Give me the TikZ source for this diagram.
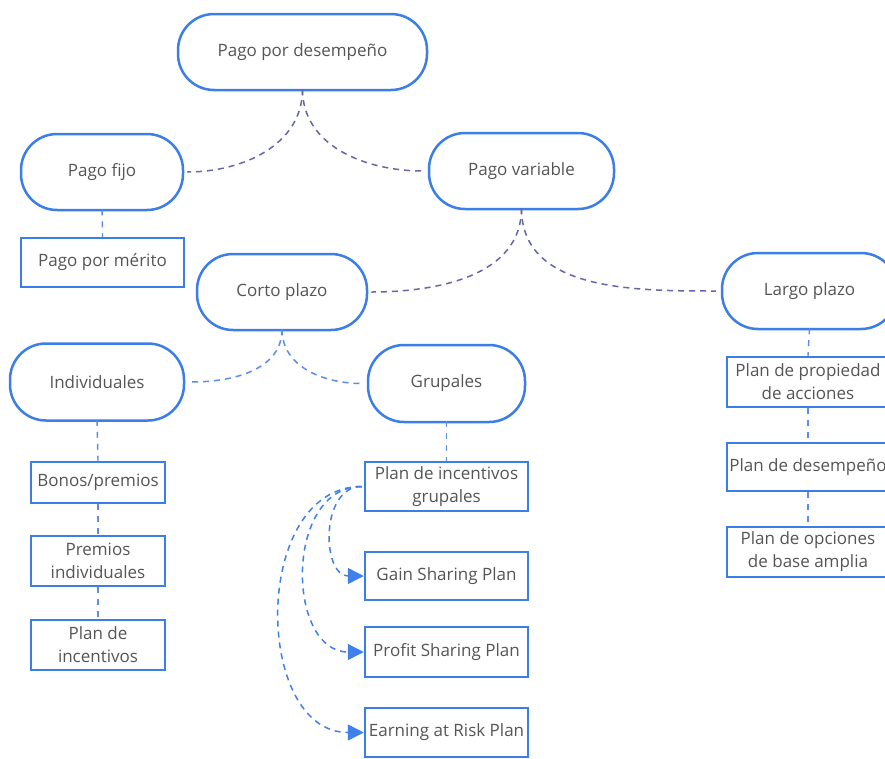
\documentclass[tikz,border=0pt]{standalone}
\usepackage{fontspec}
\setmainfont{Open Sans}
\usetikzlibrary{arrows.meta}
\definecolor{nodeblue}{HTML}{3B7DE9}
\definecolor{linkpurple}{HTML}{6666AA}
\definecolor{linkblue}{HTML}{5B8FE6}
\definecolor{arrowblue}{HTML}{3F80EA}
\definecolor{txt}{HTML}{555555}
\tikzset{
  every node/.style={font=\fontsize{17}{23}\selectfont, text=txt, align=center, inner sep=0pt},
  stadium/.style={draw=nodeblue, line width=2.5pt, rounded corners=36pt, minimum height=76pt, fill=white},
  rectbox/.style={draw=nodeblue, line width=2.5pt, fill=white},
  toplink/.style={draw=linkpurple, line width=1.5pt, dash pattern=on 6pt off 5pt},
  sublink/.style={draw=linkblue, line width=1.5pt, dash pattern=on 6pt off 5pt},
  vlink/.style={draw=linkblue, line width=1.4pt, dash pattern=on 6pt off 6pt},
  arrlink/.style={draw=arrowblue, line width=1.5pt, dash pattern=on 6pt off 5pt,
     -{Triangle[length=16pt,width=16pt,fill=arrowblue]}},
}
\begin{document}
\begin{tikzpicture}[x=1pt,y=-1pt]
\useasboundingbox (0,0) rectangle (885,758);
\clip (0,0) rectangle (885,758);
\fill[white] (0,0) rectangle (885,758);

% nodes
\node[stadium, minimum width=249pt] (pd) at (302.5,52) {Pago por desempeño};
\node[stadium, minimum width=162pt] (pf) at (102,172) {Pago fijo};
\node[stadium, minimum width=185pt] (pv) at (521.5,171) {Pago variable};
\node[rectbox, minimum width=163pt, minimum height=49pt] (pm) at (102.5,262.5) {Pago por mérito};
\node[stadium, minimum width=170pt] (cp) at (282,292) {Corto plazo};
\node[stadium, minimum width=175pt] (lp) at (809.5,291) {Largo plazo};
\node[stadium, minimum width=174pt, minimum height=77pt] (ind) at (97,382) {Individuales};
\node[stadium, minimum width=157pt, minimum height=77pt] (gr) at (446.5,383.5) {Grupales};

\node[rectbox, minimum width=134pt, minimum height=41pt] (bp) at (98,482.5) {Bonos/premios};
\node[rectbox, minimum width=134pt, minimum height=50pt] (pi) at (98,561) {Premios\\individuales};
\node[rectbox, minimum width=134pt, minimum height=50pt] (pinc) at (98,645) {Plan de\\incentivos};

\node[rectbox, minimum width=163pt, minimum height=49pt] (pig) at (446.5,486.5) {Plan de incentivos\\grupales};
\node[rectbox, minimum width=163pt, minimum height=48pt] (gs) at (446.5,576) {Gain Sharing Plan};
\node[rectbox, minimum width=163pt, minimum height=50pt] (ps) at (446.5,652) {Profit Sharing Plan};
\node[rectbox, minimum width=163pt, minimum height=49pt] (er) at (446.5,732.5) {Earning at Risk Plan};

\node[rectbox, minimum width=162pt, minimum height=50pt] (pp) at (808,382) {Plan de propiedad\\de acciones};
\node[rectbox, minimum width=162pt, minimum height=48pt] (pdes) at (808,467) {Plan de desempeño};
\node[rectbox, minimum width=162pt, minimum height=50pt] (po) at (808,552) {Plan de opciones\\de base amplia};

% connectors
\path[toplink] ([yshift=2pt]pd.south) to[out=-90,in=0] ([xshift=3pt]pf.east);
\path[toplink] ([yshift=2pt]pd.south) to[out=-90,in=180] ([xshift=-5pt]pv.west);
\path[toplink] ([yshift=2pt]pv.south) to[out=-90,in=0] ([xshift=3pt]cp.east);
\path[toplink] ([yshift=2pt]pv.south) to[out=-90,in=180] ([xshift=-5pt]lp.west);
\path[sublink] ([yshift=2pt]cp.south) to[out=-90,in=0] ([xshift=6pt]ind.east);
\path[sublink] ([yshift=2pt]cp.south) to[out=-90,in=180] ([xshift=-5pt]gr.west);

\path[vlink] ([yshift=2pt]pf.south) -- (pm.north);
\path[vlink] ([yshift=2pt]ind.south) -- (bp.north);
\path[vlink] (bp.south) -- (pi.north);
\path[vlink] (pi.south) -- (pinc.north);
\path[vlink] ([yshift=2pt]gr.south) -- (pig.north);
\path[vlink] ([yshift=2pt]lp.south) -- (pp.north);
\path[vlink] (pp.south) -- (pdes.north);
\path[vlink] (pdes.south) -- (po.north);

\path[arrlink] ([xshift=-2pt]pig.west) to[out=180,in=180,looseness=1.2] (gs.west);
\path[arrlink] ([xshift=-2pt]pig.west) to[out=180,in=180,looseness=1.2] (ps.west);
\path[arrlink] ([xshift=-2pt]pig.west) to[out=180,in=180,looseness=1.15] (er.west);
\end{tikzpicture}
\end{document}
